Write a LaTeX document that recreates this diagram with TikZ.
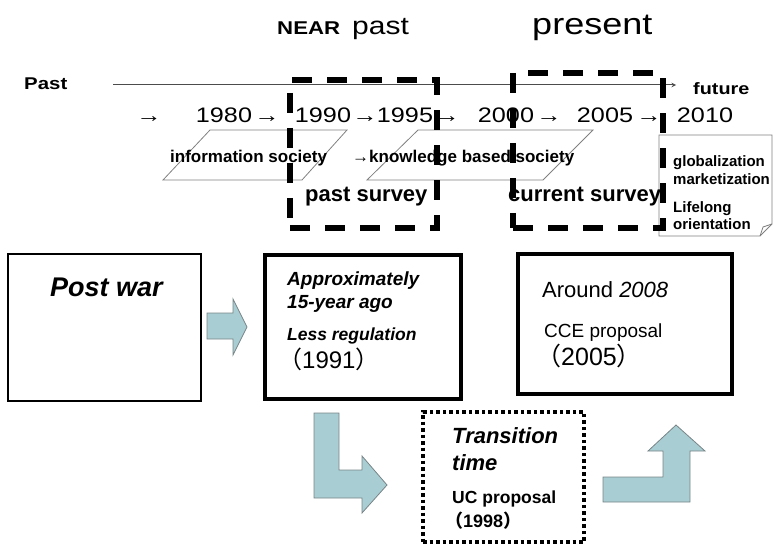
\documentclass[tikz,border=0pt]{standalone}
\usepackage{fontspec}
\setmainfont{Liberation Sans}
\newfontfamily\cjk{Noto Sans CJK JP}
\usetikzlibrary{positioning}
\definecolor{arrowfill}{RGB}{168,206,211}
\definecolor{arrowline}{RGB}{120,132,135}
\newcommand{\fsz}[1]{\fontsize{#1}{#1}\selectfont}
\newcommand{\lp}{{\cjk （}}
\newcommand{\rp}{{\cjk ）}}
\tikzset{
  txt/.style={inner sep=0pt, anchor=base west},
  wide/.style={xscale=1.2, transform shape},
  yr/.style={inner sep=0pt, anchor=base, font=\fsz{21}, wide},
  plainbox/.style={draw, line width=1.5pt, inner sep=0pt},
  thickbox/.style={draw, line width=4pt, inner sep=0pt},
  surveybox/.style={draw, line width=5.5pt, dash pattern=on 20pt off 15pt, inner sep=0pt},
  dotbox/.style={draw, line width=3.5pt, dash pattern=on 3.5pt off 3pt, inner sep=0pt},
  blockarrow/.style={fill=arrowfill, draw=arrowline, line width=0.8pt},
  era/.style={draw=gray, line width=0.8pt}
}
\begin{document}
\begin{tikzpicture}[x=1pt,y=1pt]
\useasboundingbox (0,0) rectangle (776,-545);
% headings
\node[txt, wide, font=\bfseries\fsz{18.5}] (near) at (277,-35) {NEAR};
\node[txt, wide, font=\fsz{25}] (nearpast) at (352,-35) {past};
\node[txt, wide, font=\fsz{30}] (present) at (532,-35) {present};
% time line
\node[txt, wide, font=\bfseries\fsz{17}] (past) at (24,-90) {Past};
\node[txt, wide, font=\bfseries\fsz{16.5}] (future) at (693,-95) {future};
\coordinate (tl-start) at (113,-85);
\draw[gray!60!black, line width=1pt, -stealth, shorten >=17pt] (tl-start) -- (tl-start -| future.west);
\foreach \x/\t in {149/→,224/1980,267/→,323/1990,365/→,405/1995,447/→,506/2000,549/→,605/2005,649/→,705/2010}
  \node[yr] (yr-\x) at (\x,-123) {\t};
% societies
\draw[era] (210,-130) -- (347,-130) -- (302,-180) -- (163,-180) -- cycle;
\draw[era] (418,-130) -- (593,-130) -- (543,-180) -- (367,-180) -- cycle;
\node[txt, font=\bfseries\fsz{17}] (infosoc) at (170,-163) {information society};
\node[txt, font=\bfseries\fsz{17}] (knowsoc) at (352,-163) {→knowledge based society};
% note
\draw[gray, line width=0.8pt, fill=white] (659,-135) -- (772,-135) -- (772,-224) -- (760,-236) -- (659,-236) -- cycle;
\draw[gray, line width=0.8pt] (772,-224) -- (763,-227) -- (760,-236);
\node[txt, font=\bfseries\fsz{15}] (glob) at (673,-167) {globalization};
\node[txt, font=\bfseries\fsz{15}] (mark) at (673,-185) {marketization};
\node[txt, font=\bfseries\fsz{15}] (life) at (673,-213) {Lifelong};
\node[txt, font=\bfseries\fsz{15}] (orient) at (673,-230) {orientation};
% surveys
\node[surveybox, minimum width=147pt, minimum height=148pt] (pastsurvey) at (363.5,-154) {};
\node[surveybox, minimum width=150pt, minimum height=155pt] (cursurvey) at (588,-150.5) {};
\node[txt, font=\bfseries\fsz{22}] (pastlab) at (305,-202) {past survey};
\node[txt, font=\bfseries\fsz{22}] (curlab) at (508,-202) {current survey};
% stages
\node[plainbox, minimum width=193pt, minimum height=147pt] (postwar) at (104.5,-327.5) {};
\node[txt, font=\bfseries\itshape\fsz{27}] (postwarlab) at (50,-297) {Post war};
\node[thickbox, minimum width=196pt, minimum height=144pt] (approx) at (363,-327) {};
\node[txt, font=\bfseries\itshape\fsz{19}] (approx1) at (287,-285) {Approximately};
\node[txt, font=\bfseries\itshape\fsz{19}] (approx2) at (287,-308) {15-year ago};
\node[txt, font=\bfseries\itshape\fsz{17.5}] (approx3) at (287,-340) {Less regulation};
\node[txt, font=\fsz{24}] (approx4) at (278,-368) {\lp 1991\rp};
\node[thickbox, minimum width=214pt, minimum height=140pt] (around) at (625,-324) {};
\node[txt, font=\fsz{22}] (around1) at (542,-298) {Around \textit{2008}};
\node[txt, font=\fsz{19}] (around2) at (544,-337) {CCE proposal};
\node[txt, font=\fsz{25}] (around3) at (536,-365) {\lp 2005\rp};
\node[dotbox, minimum width=161pt, minimum height=130pt] (trans) at (503.5,-477) {};
\node[txt, font=\bfseries\itshape\fsz{22}] (trans1) at (452,-443) {Transition};
\node[txt, font=\bfseries\itshape\fsz{22}] (trans2) at (452,-470) {time};
\node[txt, font=\bfseries\fsz{17.5}] (trans3) at (452,-503) {UC proposal};
\node[txt, font=\bfseries\fsz{18}] (trans4) at (445,-527) {\lp 1998\rp};
% block arrows
\draw[blockarrow] (207,-313) -- (233,-313) -- (233,-299) -- (247,-327) -- (233,-355) -- (233,-339) -- (207,-339) -- cycle;
\draw[blockarrow] (314,-413) -- (339,-413) -- (339,-470) -- (362,-470) -- (362,-456) -- (387,-485) -- (362,-513) -- (362,-498) -- (314,-498) -- cycle;
\draw[blockarrow] (603,-477) -- (663,-477) -- (663,-451) -- (648,-451) -- (676,-425) -- (705,-451) -- (690,-451) -- (690,-502) -- (603,-502) -- cycle;
\end{tikzpicture}
\end{document}
